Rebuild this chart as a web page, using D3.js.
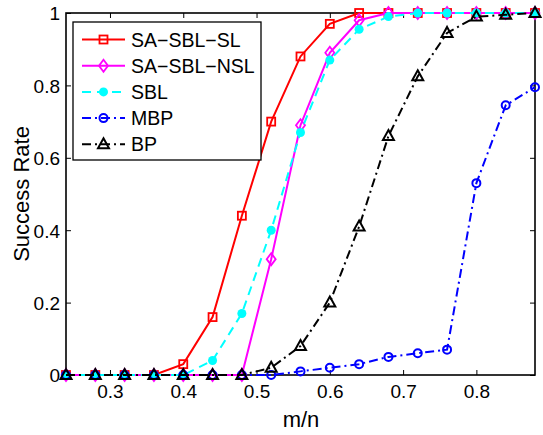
<!DOCTYPE html>
<html>
<head>
<meta charset="utf-8">
<script src="https://cdn.jsdelivr.net/npm/d3@7"></script>
<style>
  html, body { margin: 0; padding: 0; background: #fff; }
  svg text { font-family: "Liberation Sans", Arial, sans-serif; fill: #000; }
</style>
</head>
<body>
<svg id="chart" width="543" height="435"></svg>
<script>
// Measurement ratio m/n
const ratios = [0.24, 0.28, 0.32, 0.36, 0.40, 0.44, 0.48, 0.52, 0.56, 0.60, 0.64, 0.68, 0.72, 0.76, 0.80, 0.84, 0.88];

// Success rate per algorithm
const saSblSl  = [0, 0, 0, 0, 0.03, 0.16, 0.44, 0.70, 0.88, 0.97, 1, 1, 1, 1, 1, 1, 1];
const saSblNsl = [0, 0, 0, 0, 0, 0, 0, 0.32, 0.69, 0.89, 0.98, 1, 1, 1, 1, 1, 1];
const sbl      = [0, 0, 0, 0, 0, 0.04, 0.17, 0.40, 0.67, 0.87, 0.955, 0.99, 1, 1, 1, 1, 1];
const mbp      = [0, 0, 0, 0, 0, 0, 0, 0, 0.01, 0.02, 0.03, 0.05, 0.06, 0.07, 0.53, 0.745, 0.795];
const bp       = [0, 0, 0, 0, 0, 0, 0, 0.02, 0.08, 0.20, 0.41, 0.66, 0.825, 0.945, 0.99, 0.995, 1];

const seriesNames = ["SA\u2212SBL\u2212SL", "SA\u2212SBL\u2212NSL", "SBL", "MBP", "BP"];
const xTicks = [0.3, 0.4, 0.5, 0.6, 0.7, 0.8];
const yTicks = [0, 0.2, 0.4, 0.6, 0.8, 1];

const styles = [
  { color: "#ff0000", dash: null,         marker: "square"   },
  { color: "#ff00ff", dash: null,         marker: "diamond"  },
  { color: "#00ffff", dash: "9,6",        marker: "dot"      },
  { color: "#0000ff", dash: "9,4,2,4",    marker: "circle"   },
  { color: "#000000", dash: "9,4,2,4",    marker: "triangle" }
];
const seriesValues = [saSblSl, saSblNsl, sbl, mbp, bp];

const svg = d3.select("#chart");
const plotLeft = 66, plotRight = 535, plotTop = 13, plotBottom = 375;

const x = d3.scaleLinear().domain([0.24, 0.88]).range([plotLeft, plotRight]);
const y = d3.scaleLinear().domain([0, 1]).range([plotBottom, plotTop]);

// Axes with inward ticks on all four sides
const tickLen = 5;
const tickFont = 19;
const axB = svg.append("g").attr("transform", `translate(0,${plotBottom})`)
  .call(d3.axisBottom(x).tickValues(xTicks).tickSizeInner(-tickLen).tickSizeOuter(0).tickPadding(10).tickFormat(d3.format(".1f")));
const axT = svg.append("g").attr("transform", `translate(0,${plotTop})`)
  .call(d3.axisTop(x).tickValues(xTicks).tickSizeInner(-tickLen).tickSizeOuter(0).tickFormat(""));
const axL = svg.append("g").attr("transform", `translate(${plotLeft},0)`)
  .call(d3.axisLeft(y).tickValues(yTicks).tickSizeInner(-tickLen).tickSizeOuter(0).tickPadding(6).tickFormat(d => d === 0 || d === 1 ? String(d) : d3.format(".1f")(d)));
const axR = svg.append("g").attr("transform", `translate(${plotRight},0)`)
  .call(d3.axisRight(y).tickValues(yTicks).tickSizeInner(-tickLen).tickSizeOuter(0).tickFormat(""));

[axB, axT, axL, axR].forEach(g => {
  g.select(".domain").remove();
  g.selectAll(".tick line").attr("stroke", "#000").attr("stroke-width", 1);
  g.selectAll("text").attr("font-size", tickFont).attr("fill", "#000");
});
axL.selectAll("text").attr("dy", "0.36em");

// Frame
svg.append("rect")
  .attr("x", plotLeft).attr("y", plotTop)
  .attr("width", plotRight - plotLeft).attr("height", plotBottom - plotTop)
  .attr("fill", "none").attr("stroke", "#000").attr("stroke-width", 1.6);

// Axis titles
svg.append("text").attr("x", 301).attr("y", 426.5)
  .attr("text-anchor", "middle").attr("font-size", 22).text("m/n");
svg.append("text")
  .attr("transform", `translate(28.5,194) rotate(-90)`)
  .attr("text-anchor", "middle").attr("font-size", 22).text("Success Rate");

function drawMarker(g, type, color, cx, cy) {
  if (type === "square") {
    g.append("rect").attr("x", cx - 4).attr("y", cy - 4).attr("width", 8).attr("height", 8)
      .attr("fill", "none").attr("stroke", color).attr("stroke-width", 1.8);
  } else if (type === "diamond") {
    g.append("path").attr("d", `M${cx},${cy - 6}L${cx + 4.5},${cy}L${cx},${cy + 6}L${cx - 4.5},${cy}Z`)
      .attr("fill", "none").attr("stroke", color).attr("stroke-width", 1.8);
  } else if (type === "dot") {
    g.append("circle").attr("cx", cx).attr("cy", cy).attr("r", 4.5).attr("fill", color);
  } else if (type === "circle") {
    g.append("circle").attr("cx", cx).attr("cy", cy).attr("r", 4)
      .attr("fill", "none").attr("stroke", color).attr("stroke-width", 2);
  } else if (type === "triangle") {
    g.append("path").attr("d", `M${cx},${cy - 6}L${cx + 5.5},${cy + 4}L${cx - 5.5},${cy + 4}Z`)
      .attr("fill", "none").attr("stroke", color).attr("stroke-width", 2);
  }
}

const line = d3.line().x((d, i) => x(ratios[i])).y(d => y(d));

seriesValues.forEach((vals, k) => {
  const st = styles[k];
  const g = svg.append("g");
  g.append("path").datum(vals).attr("d", line)
    .attr("fill", "none").attr("stroke", st.color).attr("stroke-width", 2)
    .attr("stroke-dasharray", st.dash);
  vals.forEach((v, i) => drawMarker(g, st.marker, st.color, x(ratios[i]), y(v)));
});

// Legend
const lg = svg.append("g");
lg.append("rect").attr("x", 73).attr("y", 22).attr("width", 188).attr("height", 138)
  .attr("fill", "#fff").attr("stroke", "#000").attr("stroke-width", 1.3);
seriesNames.forEach((name, k) => {
  const st = styles[k];
  const ly = 39.5 + k * 26.2;
  lg.append("line").attr("x1", 82).attr("x2", 125).attr("y1", ly).attr("y2", ly)
    .attr("stroke", st.color).attr("stroke-width", 2).attr("stroke-dasharray", st.dash);
  drawMarker(lg, st.marker, st.color, 103.5, ly);
  lg.append("text").attr("x", 131).attr("y", ly).attr("dy", "0.36em")
    .attr("font-size", 19.5).text(name);
});
</script>
</body>
</html>
